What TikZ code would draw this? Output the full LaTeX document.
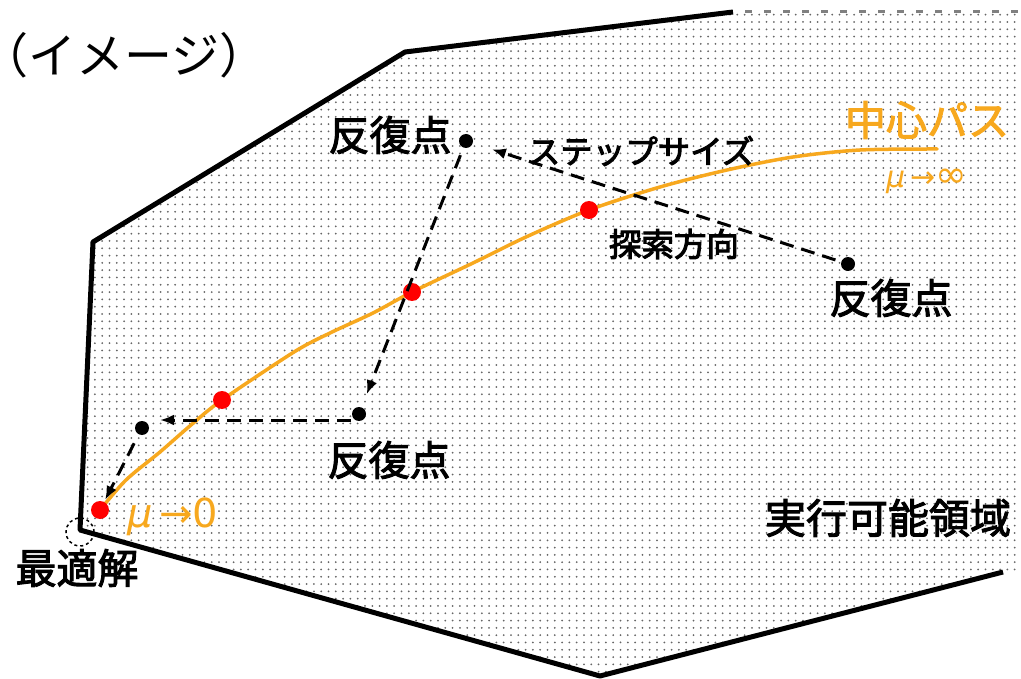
\documentclass[tikz,border=0pt]{standalone}
\usepackage{fontspec}
\newfontfamily\jp{Noto Sans CJK JP}
\newfontfamily\jph[CharacterWidth=AlternateHalf]{Noto Sans CJK JP}
\newfontfamily\dv{DejaVu Sans}
\newcommand\heavytext[1]{\special{pdf:literal direct 2 Tr 1 w}#1\special{pdf:literal direct 0 Tr}}
\usetikzlibrary{patterns.meta,arrows.meta}
\definecolor{pathorange}{RGB}{247,168,30}
\begin{document}
\begin{tikzpicture}[x=1pt,y=-1pt,
  iter/.style={circle,fill=black,inner sep=0pt,minimum size=14pt},
  cdot/.style={circle,fill=red,inner sep=0pt,minimum size=18pt},
  lbl/.style={font=\jp\fontsize{41}{43}\selectfont,inner sep=0pt},
  smalllbl/.style={font=\jp\fontsize{32.5}{34}\selectfont,inner sep=0pt},
  darrow/.style={line width=3pt,dash pattern=on 14pt off 8pt,-{Latex[length=14pt,width=11pt]}},
  border/.style={line width=5pt,line join=round},
]
\useasboundingbox (0,0) rectangle (1021,679);
% feasible region
\fill[pattern={Dots[distance=7.3pt,radius=1pt]},pattern color=black!60]
  (405,52) -- (733,12) -- (1021,12) -- (1021,575) -- (1003,572) -- (600,676) -- (80,530) -- (93,242) -- cycle;
\draw[border] (1003,572) -- (600,676) -- (80,530) -- (93,242) -- (405,52) -- (733,12);
\draw[black!50,line width=3pt,dash pattern=on 7pt off 12pt] (745,12) -- (1021,12);

% central path
\draw[pathorange,line width=3.5pt,line cap=round] plot[smooth] coordinates
  {(100,510) (126,480) (160,452) (191,425) (222,400) (294,352) (330,333) (373,313) (412,292) (473,263) (526,237) (589,210) (660,187) (727,170) (793,157) (860,150) (937,149)};

% central-path points
\node[cdot] (c1) at (100,510) {};
\node[cdot] (c2) at (222,400) {};
\node[cdot] (c3) at (412,292) {};
\node[cdot] (c4) at (589,210) {};

% iterates
\node[iter] (p1) at (466,141) {};
\node[iter] (p2) at (848,264) {};
\node[iter] (p3) at (359,414) {};
\node[iter] (p4) at (142,428) {};

% optimum
\node[circle,draw,dashed,line width=1.5pt,minimum size=28pt,inner sep=0pt] (opt) at (80,532) {};

% arrows
\draw[darrow,shorten <=6pt,shorten >=20pt] (p2) -- (p1);
\draw[darrow,shorten <=8pt,shorten >=14pt] (p1) -- (p3);
\draw[darrow,shorten <=8pt,shorten >=18pt] ([yshift=-6pt]p3.center) -- ([yshift=8pt]p4.center);
\draw[darrow,shorten <=10pt,shorten >=2pt] (p4) -- (c1);

% labels
\node[font=\jph\fontsize{48}{50}\selectfont,inner sep=0pt,anchor=west] (title) at (4,55) {（イメージ）};
\node[lbl] (l1) at (390,135) {\heavytext{反復点}};
\node[lbl] (l2) at (891,298) {\heavytext{反復点}};
\node[lbl] (l3) at (389,460) {\heavytext{反復点}};
\node[lbl] (l4) at (77,568) {\heavytext{最適解}};
\node[lbl] (l5) at (888,518) {\heavytext{実行可能領域}};
\node[smalllbl] (step) at (641,151) {\heavytext{ステップサイズ}};
\node[smalllbl] (dir) at (674,244) {\heavytext{探索方向}};
\node[lbl,text=pathorange] (cp) at (927,120) {\heavytext{中心パス}};
\node[font=\dv\fontsize{40}{42}\selectfont,text=pathorange,inner sep=0pt,anchor=west] (mu0) at (127,517) {{\itshape μ}\,→0};
\node[font=\dv\fontsize{30}{32}\selectfont,text=pathorange,inner sep=0pt,anchor=west] (muinf) at (886,181) {{\itshape μ}\,→{\fontsize{38}{38}\selectfont ∞}};
\end{tikzpicture}
\end{document}
